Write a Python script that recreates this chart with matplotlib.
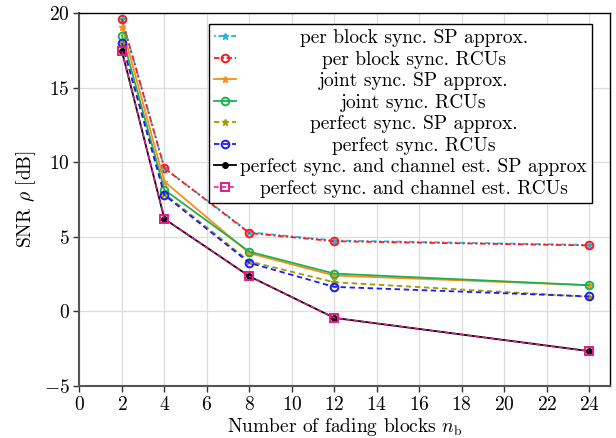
import numpy as np
import matplotlib
matplotlib.use("Agg")
import matplotlib.pyplot as plt
from matplotlib.transforms import Bbox

plt.rcParams['font.family'] = 'serif'
plt.rcParams['font.serif'] = ['cmr10']
plt.rcParams['mathtext.fontset'] = 'cm'
plt.rcParams['axes.formatter.use_mathtext'] = True
plt.rcParams['font.size'] = 14

# number of fading blocks
n_blocks = [2, 4, 8, 12, 24]

# SNR values [dB]
per_block_sp = [19.6, 9.6, 5.3, 4.75, 4.45]
per_block_rcu = [19.6, 9.6, 5.25, 4.7, 4.42]
joint_sp = [19.1, 8.7, 3.9, 2.4, 1.75]
joint_rcu = [18.5, 8.15, 4.0, 2.53, 1.75]
perfect_sp = [18.0, 7.9, 3.35, 1.95, 0.97]
perfect_rcu = [18.0, 7.8, 3.25, 1.64, 1.0]
perfect_ch_sp = [17.45, 6.2, 2.35, -0.44, -2.67]
perfect_ch_rcu = [17.45, 6.2, 2.35, -0.44, -2.67]

labels = [
    "per block sync. SP approx.",
    "per block sync. RCUs",
    "joint sync. SP approx.",
    "joint sync. RCUs",
    "perfect sync. SP approx.",
    "perfect sync. RCUs",
    "perfect sync. and channel est. SP approx",
    "perfect sync. and channel est. RCUs",
]

dashdot = (3, 1.5, 1, 1.5)
dashed = (3, 2)

fig = plt.figure(figsize=(6.16, 4.38), dpi=100)
ax = fig.add_axes([0.129, 0.119, 0.862, 0.851])

ax.plot(n_blocks, per_block_sp, color='#1eb4e6', dashes=(1, 1.5, 3, 1.5), marker='*', ms=5, lw=1.3, label=labels[0])
ax.plot(n_blocks, per_block_rcu, color='#ff1a1a', dashes=dashdot, marker='o', ms=5.5, mfc='none', mew=1.4, lw=1.3, label=labels[1])
ax.plot(n_blocks, joint_sp, '-', color='#ff8c1a', marker='*', ms=5, lw=1.3, label=labels[2])
ax.plot(n_blocks, joint_rcu, '-', color='#1ab34d', marker='o', ms=5.5, mfc='none', mew=1.4, lw=1.3, label=labels[3])
ax.plot(n_blocks, perfect_sp, color='#a09b00', dashes=dashed, marker='*', ms=5, lw=1.3, label=labels[4])
ax.plot(n_blocks, perfect_rcu, color='#1a1aff', dashes=dashed, marker='o', ms=5.5, mfc='none', mew=1.4, lw=1.3, label=labels[5])
ax.plot(n_blocks, perfect_ch_sp, '-', color='black', marker='o', ms=4, lw=1.3, label=labels[6])
ax.plot(n_blocks, perfect_ch_rcu, color='#e6198c', dashes=dashed, marker='s', ms=6, mfc='none', mew=1.4, lw=1.1, label=labels[7])

ax.set_xlim(0, 25)
ax.set_ylim(-5, 20)
ax.set_xticks(np.arange(0, 25, 2))
ax.set_yticks([-5, 0, 5, 10, 15, 20])
ax.grid(True, color='#dddddd', lw=0.9)
ax.set_axisbelow(True)
ax.set_xlabel(r"Number of fading blocks $n_\mathrm{b}$", labelpad=2)
ax.set_ylabel(r"SNR $\rho$ [dB]", labelpad=4)
for side in ['left', 'bottom']:
    ax.spines[side].set_color('#555555')
    ax.spines[side].set_linewidth(1.5)
for side in ['top', 'right']:
    ax.spines[side].set_color('black')
    ax.spines[side].set_linewidth(1.0)
ax.tick_params(direction='out', length=4, width=1.0, color='#333333', pad=3)

leg = ax.legend(loc='upper right', bbox_to_anchor=(0.965, 0.97), fancybox=False,
                framealpha=1.0, edgecolor='black', handlelength=1.15,
                handletextpad=0.2, labelspacing=0.18, borderpad=0.25,
                borderaxespad=0.0)
leg.get_frame().set_linewidth(1.0)

# centre the legend labels like in the original
text_areas = [hp.get_children()[1]
              for col in leg._legend_handle_box.get_children()
              for hp in col.get_children()]
orig_bbox = [ta.get_bbox for ta in text_areas]


def centred(ob):
    def get_bbox(renderer):
        bb = ob(renderer)
        w = max(o(renderer).width for o in orig_bbox)
        return Bbox.from_bounds(-w / 2, bb.y0, w, bb.height)
    return get_bbox


for ta, ob in zip(text_areas, orig_bbox):
    ta._text.set_horizontalalignment('center')
    ta.get_bbox = centred(ob)

fig.savefig("out.png", dpi=100)
